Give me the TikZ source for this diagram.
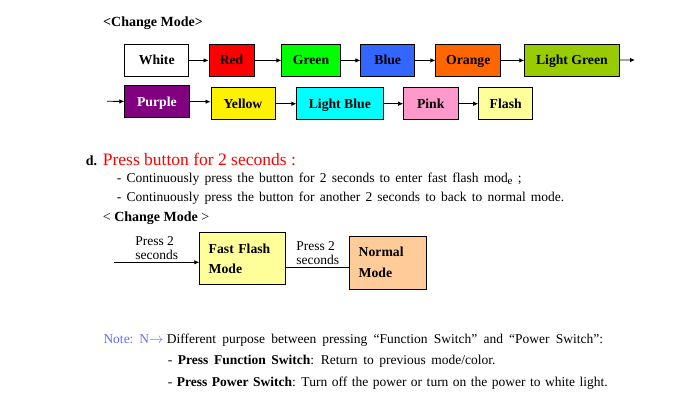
\documentclass[tikz,border=0pt]{standalone}
\usepackage{fontspec}
\setmainfont{Liberation Serif}
\usetikzlibrary{arrows.meta}
\definecolor{bluebox}{RGB}{51,102,255}
\definecolor{orangebox}{RGB}{255,102,0}
\definecolor{lgreenbox}{RGB}{153,204,0}
\definecolor{purplebox}{RGB}{128,0,128}
\definecolor{lbluebox}{RGB}{0,255,255}
\definecolor{pinkbox}{RGB}{255,153,204}
\definecolor{paleyellow}{RGB}{255,255,153}
\definecolor{peach}{RGB}{255,204,153}
\definecolor{noteblue}{RGB}{100,110,255}
\newcommand\bodytext{\fontsize{13.5}{16}\selectfont\spaceskip 4.7pt\relax}

\begin{document}
\begin{tikzpicture}[x=1pt,y=-1pt,
    box/.style={draw,line width=0.8pt,anchor=north west,minimum height=32pt,inner sep=0pt,
      text height=10.5pt,text depth=1.5pt,font=\fontsize{13.7}{16}\selectfont\bfseries},
    mbox/.style={draw,line width=0.8pt,anchor=north west,align=left,inner xsep=9pt,inner ysep=0pt,
      font=\fontsize{13.7}{20}\selectfont\bfseries},
    arr/.style={line width=0.8pt,-{Latex[length=5pt,width=4.5pt]}},
    txt/.style={anchor=base west,inner sep=0pt,font=\bodytext},
    lbl/.style={above=2.3pt,inner sep=0pt,align=left,font=\fontsize{13.5}{14.3}\selectfont}]
\useasboundingbox (0,0) rectangle (700,407);

\node[txt,font=\fontsize{14}{16}\selectfont\bfseries] (title) at (103,26.4) {<Change Mode>};

\node[box,minimum width=64pt] (white) at (124.3,44) {White};
\node[box,fill=red,minimum width=45.3pt] (red) at (208.5,44) {Red};
\node[box,fill=green,minimum width=58.4pt] (green) at (281.4,44) {Green};
\node[box,fill=bluebox,minimum width=53.9pt] (blue) at (360.4,44) {Blue};
\node[box,fill=orangebox,minimum width=65pt] (orange) at (435.4,44) {Orange};
\node[box,fill=lgreenbox,minimum width=94.4pt] (lgreen) at (524.3,44) {Light Green};
\coordinate (wrapout) at (635,60);

\coordinate (wrapin) at (107,101.3);
\node[box,fill=purplebox,text=white,minimum width=64.3pt] (purple) at (124.3,85.3) {Purple};
\node[box,fill=yellow,minimum width=64.1pt] (yellow) at (210.5,87.3) {Yellow};
\node[box,fill=lbluebox,minimum width=86.1pt] (lblue) at (296.4,87.3) {Light Blue};
\node[box,fill=pinkbox,minimum width=54.3pt] (pink) at (403.2,87.3) {Pink};
\node[box,fill=paleyellow,minimum width=54.2pt] (flash) at (478.2,87.3) {Flash};

\draw[arr] (white) -- (red);
\draw[arr] (red) -- (green);
\draw[arr] (green) -- (blue);
\draw[arr] (blue) -- (orange);
\draw[arr] (orange) -- (lgreen);
\draw[arr] (lgreen) -- (wrapout);
\draw[arr] (wrapin) -- (purple);
\draw[arr] (purple) -- (purple -| yellow.west);
\draw[arr] (yellow) -- (lblue);
\draw[arr] (lblue) -- (pink);
\draw[arr] (pink) -- (flash);

\node[txt,font=\fontsize{14}{16}\selectfont\bfseries] (dmark) at (85.7,165) {d.};
\node[txt,font=\fontsize{17.5}{20}\selectfont,text=red] (head) at (102.7,165) {Press button for 2 seconds :};
\node[txt,font=\bodytext\spaceskip 5.2pt\relax] (step1) at (116.7,182.8) {- Continuously press the button for 2 seconds to enter fast flash mod\raisebox{-1.5pt}{\fontsize{11}{11}\selectfont e} ;};
\node[txt,font=\bodytext\spaceskip 5.2pt\relax] (step2) at (116.7,201.2) {- Continuously press the button for another 2 seconds to back to normal mode.};
\node[txt,font=\fontsize{14}{16}\selectfont] (subtitle) at (102.7,221.2) {< \textbf{Change Mode} >};

\node[mbox,fill=paleyellow,text width=68pt,minimum height=52pt] (ffm) at (199.3,232.3) {Fast Flash\\Mode};
\node[mbox,fill=peach,text width=58.2pt,minimum height=53.5pt,font=\fontsize{13.7}{21}\selectfont\bfseries] (nm) at (349.3,235.5) {Normal\\Mode};
\coordinate (ffin) at (114,262.3);
\draw[arr] (ffin) -- node[lbl] {Press 2\\seconds} (ffin -| ffm.west);
\draw[line width=0.8pt] ([yshift=-9pt]ffm.east) -- node[lbl] {Press 2\\seconds} ([yshift=-9pt]ffm.east -| nm.west);

\node[txt,text=noteblue] (note) at (103.3,343.3) {Note: N$\rightarrow$};
\node[txt,font=\bodytext\spaceskip 6.2pt\relax] (purpose) at (166.7,343.3) {Different purpose between pressing “Function Switch” and “Power Switch”:};
\node[txt,font=\bodytext\spaceskip 5.6pt\relax] (fswitch) at (167.7,364.3) {- \textbf{Press Function Switch}: Return to previous mode/color.};
\node[txt,font=\bodytext\spaceskip 4.5pt\relax] (pswitch) at (167.7,386) {- \textbf{Press Power Switch}: Turn off the power or turn on the power to white light.};
\end{tikzpicture}
\end{document}
